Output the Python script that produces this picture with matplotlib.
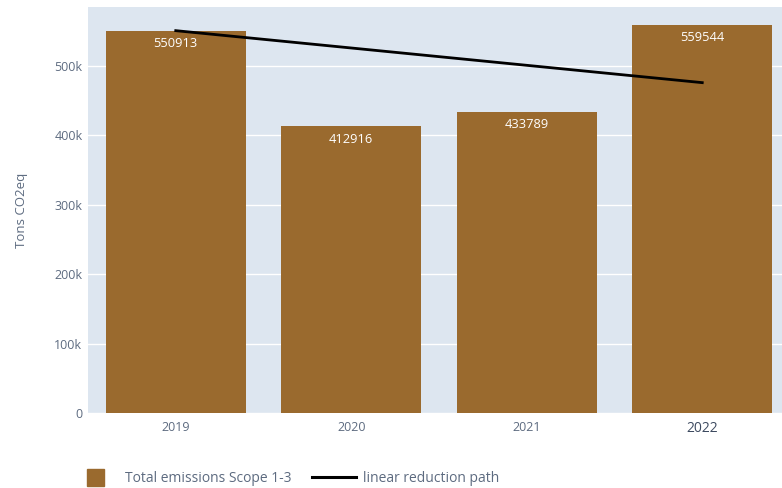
import matplotlib
matplotlib.use("Agg")
import matplotlib.pyplot as plt
from matplotlib.lines import Line2D
from matplotlib.patches import Rectangle

years = ["2019", "2020", "2021", "2022"]
emissions = [550913, 412916, 433789, 559544]
path_years = ["2019", "2022"]
path_values = [550913, 476000]
yticks = [0, 100000, 200000, 300000, 400000, 500000]
ytick_labels = ["0", "100k", "200k", "300k", "400k", "500k"]

BAR = "#9a6a2e"
BG = "#dde6f0"
TXT = "#5d6b80"
W, H = 782, 488

plt.rcParams["font.family"] = ["Open Sans", "DejaVu Sans"]
fig = plt.figure(figsize=(W/100, H/100), dpi=100)
ax = fig.add_axes([88/W, 75/H, 702/W, 406/H])
ax.set_facecolor(BG)

x = range(len(years))
ax.bar(x, emissions, width=0.8, color=BAR, zorder=2)
for xi, v in zip(x, emissions):
    ax.text(xi, v - 9000, str(v), ha="center", va="top", color="white",
            fontsize=9.3, zorder=4)
px = [years.index(y) for y in path_years]
ax.plot(px, path_values, color="black", lw=2, zorder=3)

ax.set_xlim(-0.5, 3.5)
ax.set_ylim(0, 585000)
ax.set_xticks(list(x))
ax.set_xticklabels(years)
ax.set_yticks(yticks)
ax.set_yticklabels(ytick_labels)
ax.grid(axis="y", color="white", lw=1, zorder=1)
ax.set_axisbelow(True)
for s in ax.spines.values():
    s.set_visible(False)
ax.tick_params(axis="y", length=0, colors=TXT, labelsize=9, pad=4)
ax.tick_params(axis="x", length=0, colors=TXT, labelsize=9, pad=6)
ax.get_xticklabels()[3].set_fontsize(10)
ax.get_xticklabels()[3].set_color("#3d4a60")
ax.set_ylabel("Tons CO2eq", color=TXT, fontsize=9.5, labelpad=19)

# legend row under the plot, drawn in figure pixels
fig.patches.append(Rectangle((87/W, 1 - 486/H), 17/W, 17/H, color=BAR,
                             transform=fig.transFigure, figure=fig))
fig.text(125/W, 1 - 478/H, "Total emissions Scope 1-3", color=TXT,
         fontsize=10, va="center")
fig.lines.append(Line2D([312/W, 356/W], [1 - 477/H] * 2, color="black",
                        lw=2.2, transform=fig.transFigure, figure=fig))
fig.text(363/W, 1 - 478/H, "linear reduction path", color=TXT,
         fontsize=10, va="center")

fig.savefig("out.png", dpi=100)
